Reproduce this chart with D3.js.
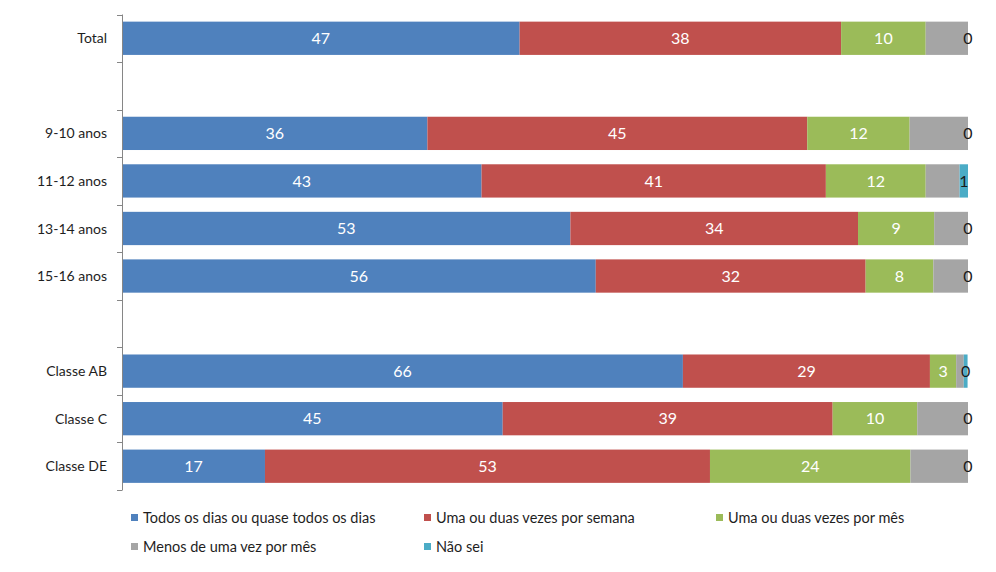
<!DOCTYPE html>
<html>
<head>
<meta charset="utf-8">
<script src="https://cdn.jsdelivr.net/npm/d3@7"></script>
<style>
  html, body { margin: 0; padding: 0; background: #fff; }
  svg { display: block; }
  text { font-family: Lato, "Open Sans", sans-serif; }
</style>
</head>
<body>
<svg id="chart" width="996" height="572"></svg>
<script>
// ---- data ----
const categories = ["Total", "", "9-10 anos", "11-12 anos", "13-14 anos", "15-16 anos", "", "Classe AB", "Classe C", "Classe DE"];
const seriesNames = ["Todos os dias ou quase todos os dias", "Uma ou duas vezes por semana", "Uma ou duas vezes por mês", "Menos de uma vez por mês", "Não sei"];
const todosDias   = [47.0, null, 36.1, 42.5, 53.0, 56.0, null, 66.3, 45.0, 16.9];
const semana      = [38.0, null, 44.9, 40.7, 34.0, 31.9, null, 29.2, 39.0, 52.6];
const porMes      = [10.0, null, 12.1, 11.8,  9.0,  8.0, null,  3.1, 10.0, 23.7];
const menosMes    = [ 5.0, null,  6.9,  4.0,  4.0,  4.1, null,  0.9,  6.0,  6.8];
const naoSei      = [ 0.0, null,  0.0,  1.0,  0.0,  0.0, null,  0.45, 0.0,  0.0];
const seriesValues = [todosDias, semana, porMes, menosMes, naoSei];
const colors = ["#4F81BD", "#C0504D", "#9BBB59", "#A5A5A5", "#4BACC6"];
const labelColors = ["#ffffff", "#ffffff", "#ffffff", null, "#1a1a1a"];

// ---- layout ----
const svg = d3.select("#chart");
const x0 = 122, x1 = 968, yTop = 14.5, yBot = 490;

const x = d3.scaleLinear().domain([0, 100]).range([x0, x1]);
const y = d3.scaleBand().domain(d3.range(categories.length)).range([yTop, yBot])
  .paddingInner(0.3).paddingOuter(0.15);

// stacked data
const rows = categories.map((c, i) => {
  let acc = 0;
  const segs = [];
  if (todosDias[i] == null) return segs;
  seriesValues.forEach((arr, s) => {
    const v = arr[i];
    segs.push({ row: i, s, v, start: acc, end: acc + v });
    acc += v;
  });
  return segs;
});
const segs = rows.flat();

// bars
svg.append("g").selectAll("rect").data(segs).join("rect")
  .attr("x", d => x(d.start))
  .attr("y", d => y(d.row))
  .attr("width", d => Math.max(0, x(d.end) - x(d.start)))
  .attr("height", y.bandwidth())
  .attr("fill", d => colors[d.s]);

// data labels
svg.append("g").selectAll("text").data(segs.filter(d => labelColors[d.s] != null)).join("text")
  .attr("x", d => (x(d.start) + x(d.end)) / 2)
  .attr("y", d => y(d.row) + y.bandwidth() / 2)
  .attr("dy", "0.36em")
  .attr("text-anchor", "middle")
  .attr("font-size", 16)
  .attr("fill", d => labelColors[d.s])
  .text(d => Math.round(d.v));

// axis line and ticks
const axisG = svg.append("g");
axisG.append("line")
  .attr("x1", x0 + 0.5).attr("x2", x0 + 0.5)
  .attr("y1", yTop).attr("y2", yBot)
  .attr("stroke", "#868686").attr("stroke-width", 1);
const tickYs = d3.range(categories.length + 1).map(i => yTop + i * y.step());
axisG.selectAll("line.tick").data(tickYs).join("line")
  .attr("class", "tick")
  .attr("x1", x0 - 5).attr("x2", x0 + 0.5)
  .attr("y1", d => Math.round(d) + 0.5).attr("y2", d => Math.round(d) + 0.5)
  .attr("stroke", "#868686").attr("stroke-width", 1);

// category labels
svg.append("g").selectAll("text").data(categories.map((c, i) => ({ c, i })).filter(d => d.c)).join("text")
  .attr("x", 107)
  .attr("y", d => y(d.i) + y.bandwidth() / 2)
  .attr("dy", "0.36em")
  .attr("text-anchor", "end")
  .attr("font-size", 14)
  .attr("fill", "#1e1e1e")
  .text(d => d.c);

// legend
const legendPos = [
  { x: 131, y: 518 }, { x: 424, y: 518 }, { x: 716, y: 518 },
  { x: 131, y: 547 }, { x: 424, y: 547 }
];
const lg = svg.append("g").selectAll("g").data(seriesNames).join("g")
  .attr("transform", (d, i) => `translate(${legendPos[i].x},${legendPos[i].y})`);
lg.append("rect").attr("x", 0).attr("y", -4).attr("width", 7).attr("height", 7)
  .attr("fill", (d, i) => colors[i]);
lg.append("text").attr("x", 12).attr("y", 0).attr("dy", "0.36em")
  .attr("font-size", 14.5).attr("fill", "#1e1e1e")
  .text(d => d);
</script>
</body>
</html>
